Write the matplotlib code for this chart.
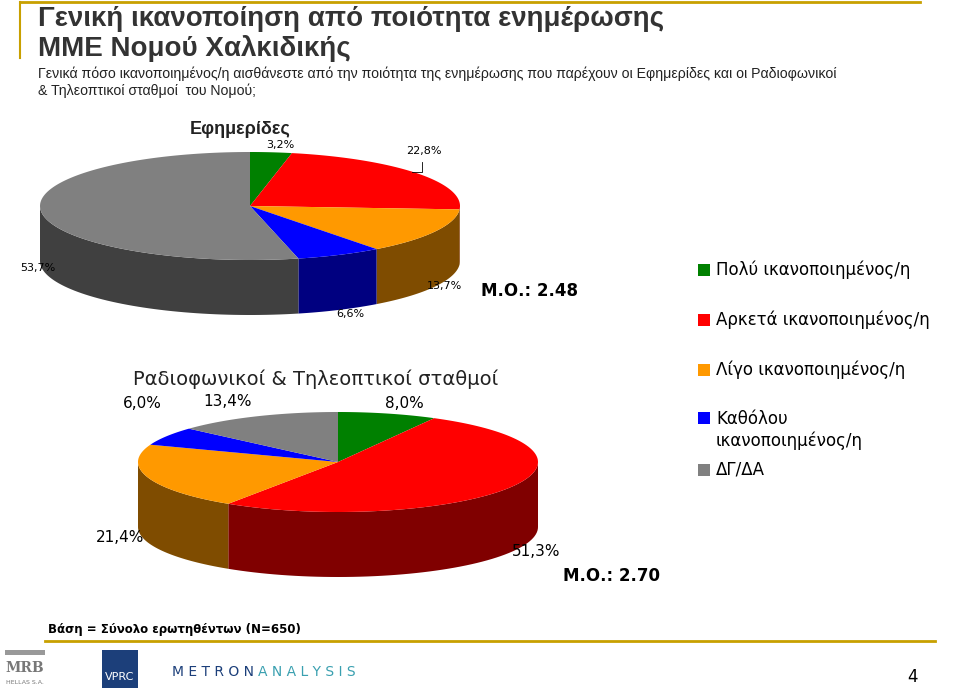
import numpy as np
import matplotlib
matplotlib.use('Agg')
import matplotlib.pyplot as plt
from matplotlib.patches import Polygon, Rectangle
from matplotlib import font_manager

plt.rcParams['font.family'] = 'DejaVu Sans'
names = {f.name for f in font_manager.fontManager.ttflist}
narrow = 'Liberation Sans Narrow' if 'Liberation Sans Narrow' in names else 'Liberation Sans'

categories = ['Πολύ ικανοποιημένος/η', 'Αρκετά ικανοποιημένος/η', 'Λίγο ικανοποιημένος/η',
              'Καθόλου\nικανοποιημένος/η', 'ΔΓ/ΔΑ']
press_values = [3.2, 22.8, 13.7, 6.6, 53.7]
radio_values = [8.0, 51.3, 21.4, 6.0, 13.4]
press_labels = ['3,2%', '22,8%', '13,7%', '6,6%', '53,7%']
radio_labels = ['8,0%', '51,3%', '21,4%', '6,0%', '13,4%']

top_colors = ['#008000', '#ff0000', '#ff9900', '#0000ff', '#808080']
side_colors = ['#005000', '#800000', '#7f4c00', '#000080', '#404040']
gold = '#c8a000'


def draw_pie3d(ax, values, cx, cy, rx, ry, depth):
    # angles clockwise from 12 o'clock, y axis points down
    total = sum(values)
    start = 0.0
    spans = []
    for v in values:
        end = start + 360.0 * v / total
        spans.append((start, end))
        start = end

    def pt(a, dy=0):
        t = np.radians(a)
        return cx + rx * np.sin(t), cy - ry * np.cos(t) + dy

    # side walls (front half only: 90..270 deg)
    for (a0, a1), c in zip(spans, side_colors):
        lo, hi = max(a0, 90), min(a1, 270)
        if hi <= lo:
            continue
        ang = np.linspace(lo, hi, 60)
        upper = [pt(a) for a in ang]
        lower = [pt(a, depth) for a in ang[::-1]]
        ax.add_patch(Polygon(upper + lower, closed=True, fc=c, ec='none'))
    # tops
    for (a0, a1), c in zip(spans, top_colors):
        ang = np.linspace(a0, a1, 120)
        pts = [(cx, cy)] + [pt(a) for a in ang]
        ax.add_patch(Polygon(pts, closed=True, fc=c, ec='none'))


fig = plt.figure(figsize=(9.6, 6.9), dpi=100)
ax = fig.add_axes([0, 0, 1, 1])
ax.set_xlim(0, 960)
ax.set_ylim(690, 0)
ax.axis('off')

# frame lines
ax.plot([20, 920], [2, 2], color=gold, lw=2)
ax.plot([20, 20], [2, 58], color=gold, lw=1.5)
ax.plot([45, 935], [641, 641], color=gold, lw=2)

title_c = '#333333'
ax.text(38, 19, 'Γενική ικανοποίηση από ποιότητα ενημέρωσης', fontsize=20, color=title_c,
        fontweight='bold', va='center', family=narrow)
ax.text(38, 49, 'ΜΜΕ Νομού Χαλκιδικής', fontsize=20, color=title_c, fontweight='bold',
        va='center', family=narrow)
ax.text(38, 74, 'Γενικά πόσο ικανοποιημένος/η αισθάνεστε από την ποιότητα της ενημέρωσης που παρέχουν οι Εφημερίδες και οι Ραδιοφωνικοί',
        fontsize=10.2, color='#222222', va='center', family=narrow)
ax.text(38, 91, '& Τηλεοπτικοί σταθμοί  του Νομού;', fontsize=10.2, color='#222222', va='center',
        family=narrow)

# pie 1
draw_pie3d(ax, press_values, 250, 206, 210, 54, 55)
ax.text(240, 130, 'Εφημερίδες', fontsize=13, fontweight='bold', color='#222222', ha='center',
        va='center', family=narrow)
ax.text(280, 145, press_labels[0], fontsize=8, ha='center', va='center')
ax.text(424, 151, press_labels[1], fontsize=8, ha='center', va='center')
ax.plot([412, 422, 422], [172, 172, 162], color='black', lw=0.6)
ax.text(444, 286, press_labels[2], fontsize=8, ha='center', va='center')
ax.text(350, 314, press_labels[3], fontsize=8, ha='center', va='center')
ax.text(38, 268, press_labels[4], fontsize=8, ha='center', va='center')
ax.text(481, 291, 'Μ.Ο.: 2.48', fontsize=12, fontweight='bold', va='center')

# pie 2
draw_pie3d(ax, radio_values, 338, 462, 200, 50, 65)
ax.text(316, 379, 'Ραδιοφωνικοί & Τηλεοπτικοί σταθμοί', fontsize=14, color='#222222',
        ha='center', va='center')
ax.text(142, 403, radio_labels[3], fontsize=11, ha='center', va='center')
ax.text(228, 402, radio_labels[4], fontsize=11, ha='center', va='center')
ax.text(404, 403, radio_labels[0], fontsize=11, ha='center', va='center')
ax.text(120, 538, radio_labels[2], fontsize=11, ha='center', va='center')
ax.text(536, 552, radio_labels[1], fontsize=11, ha='center', va='center')
ax.text(563, 576, 'Μ.Ο.: 2.70', fontsize=12, fontweight='bold', va='center')

# legend
leg_y = [270, 320, 370, 430, 470]
for y, c, lab in zip(leg_y, top_colors, categories):
    sq_y = y - 12 if '\n' in lab else y
    ax.add_patch(Rectangle((698, sq_y - 6), 12, 12, fc=c, ec='none'))
    ax.text(716, y, lab, fontsize=12, va='center', linespacing=1.2)

ax.text(48, 630, 'Βάση = Σύνολο ερωτηθέντων (Ν=650)', fontsize=8.5, fontweight='bold', va='center')

# logos
ax.add_patch(Rectangle((5, 650), 40, 5, fc='#999999', ec='none'))
ax.text(25, 668, 'MRB', fontsize=10, fontweight='bold', family='DejaVu Serif', color='#777777',
        ha='center', va='center')
ax.text(25, 682, 'HELLAS S.A.', fontsize=4.5, color='#777777', ha='center', va='center')
ax.add_patch(Rectangle((102, 650), 36, 38, fc='#1c3f7a', ec='none'))
ax.text(120, 677, 'VPRC', fontsize=8, color='white', ha='center', va='center')
ax.text(172, 672, 'M E T R O N', fontsize=10, color='#1c3f7a', va='center')
ax.text(258, 672, 'A N A L Y S I S', fontsize=10, color='#3aa0b0', va='center')
ax.text(913, 677, '4', fontsize=12, ha='center', va='center')

fig.savefig('out.png', dpi=100)
